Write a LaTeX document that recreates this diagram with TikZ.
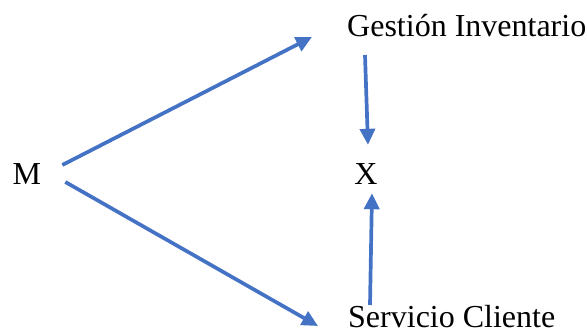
\documentclass[tikz,border=0pt]{standalone}
\usepackage{fontspec}
\setmainfont{Liberation Serif}
\usetikzlibrary{arrows.meta}
\definecolor{flecha}{HTML}{4472C4}
\begin{document}
\begin{tikzpicture}[x=1pt, y=1pt, >={Triangle[length=16pt, width=15pt]},
  txt/.style={inner sep=0pt, font=\fontsize{32}{37}\selectfont},
  arr/.style={->, draw=flecha, fill=flecha, line width=3.7pt}]
\useasboundingbox (0,0) rectangle (587,333);

\node[txt, anchor=base west] (M) at (12.5,149) {M};
\node[txt, anchor=base] (X) at (366,149) {X};
\node[txt, anchor=base west] (G) at (347,297) {Gestión Inventario};
\node[txt, anchor=base west] (S) at (348,5.5) {Servicio Cliente};

\draw [arr]([xshift=21, yshift=19]M.base east)--([xshift=-35, yshift=-1]G.base west);
\draw [arr]([xshift=24, yshift=2]M.base east)--([xshift=-30, yshift=1.5]S.base west);
\draw [arr]([xshift=18, yshift=-19]G.base west)--([xshift=2, yshift=18]X.north);
\draw [arr]([xshift=22, yshift=22.5]S.base west)--([xshift=6, yshift=-9]X.south);
\end{tikzpicture}
\end{document}
